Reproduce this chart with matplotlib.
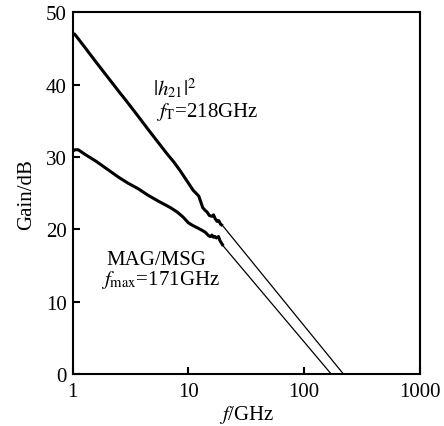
import matplotlib
matplotlib.use("Agg")
import matplotlib.pyplot as plt

plt.rcParams['font.family'] = ['Liberation Serif', 'DejaVu Serif']
plt.rcParams['mathtext.fontset'] = 'stix'

# |h21|^2 measured data
h21_f = [1.0, 1.04, 1.09, 1.3, 1.6, 2.0, 2.5, 3.0, 3.7, 4.5, 5.5, 6.5, 7.5, 8.5,
         10.0, 11.0, 11.8, 12.3, 12.8, 13.3, 14.0, 14.5, 15.2, 16.0, 16.5, 17.0,
         17.7, 18.3, 19.0, 19.8]
h21_g = [47.0, 47.0, 46.6, 45.0, 43.1, 41.1, 39.1, 37.5, 35.6, 33.8, 32.0, 30.5,
         29.3, 28.1, 26.4, 25.4, 24.9, 24.6, 23.8, 23.0, 22.6, 22.4, 21.9, 21.8,
         22.0, 21.5, 21.1, 21.2, 20.7, 20.5]
fT = 218

# MAG/MSG measured data
mag_f = [1.0, 1.05, 1.12, 1.3, 1.6, 2.0, 2.5, 3.0, 3.7, 4.5, 5.5, 7.0, 8.0, 9.0,
         10.0, 11.0, 12.0, 13.0, 14.0, 15.0, 15.5, 16.0, 16.5, 17.0, 17.5, 18.2,
         18.8, 19.5, 20.0]
mag_g = [30.8, 31.0, 31.0, 30.3, 29.4, 28.3, 27.2, 26.4, 25.6, 24.7, 23.9, 23.0,
         22.4, 21.7, 20.9, 20.5, 20.2, 19.9, 19.6, 19.1, 19.0, 19.2, 18.9, 19.0,
         18.8, 19.0, 18.4, 18.0, 17.7]
fmax = 171

xticks = [1, 10, 100, 1000]
xticklabels = ['1', '10', '100', '1000']
yticks = [0, 10, 20, 30, 40, 50]

FS = 15

fig = plt.figure(figsize=(4.44, 4.27), dpi=100)
ax = fig.add_axes([0.1633, 0.1218, 0.946 - 0.1633, 0.9688 - 0.1218])

ax.plot(h21_f, h21_g, color='black', lw=2.2, solid_capstyle='butt')
ax.plot([h21_f[-1], fT], [h21_g[-1], 0], color='black', lw=0.9)
ax.plot(mag_f, mag_g, color='black', lw=2.2, solid_capstyle='butt')
ax.plot([mag_f[-1], fmax], [mag_g[-1], 0], color='black', lw=0.9)

ax.set_xscale('log')
ax.set_xlim(1, 1000)
ax.set_ylim(0, 50)
ax.set_xticks(xticks)
ax.set_xticklabels(xticklabels)
ax.xaxis.set_minor_locator(matplotlib.ticker.NullLocator())
ax.set_yticks(yticks)
ax.tick_params(direction='in', length=5, width=1.5, labelsize=FS, pad=4)
ax.tick_params(axis='x', pad=6)
for s in ax.spines.values():
    s.set_linewidth(1.5)

ax.set_xlabel(r'$f$/GHz', fontsize=FS, labelpad=1)
ax.set_ylabel('Gain/dB', fontsize=FS, labelpad=7)

ax.text(5.0, 38.6, r'$|h_{21}|^2$', fontsize=FS, ha='left', va='baseline')
ax.text(5.3, 35.7, r'$f_{\mathrm{T}}$=218GHz', fontsize=FS, ha='left', va='baseline')
ax.text(1.95, 15.2, 'MAG/MSG', fontsize=FS, ha='left', va='baseline')
ax.text(1.75, 12.4, r'$f_{\mathrm{max}}$=171GHz', fontsize=FS, ha='left', va='baseline')

fig.savefig('out.png', dpi=100)
